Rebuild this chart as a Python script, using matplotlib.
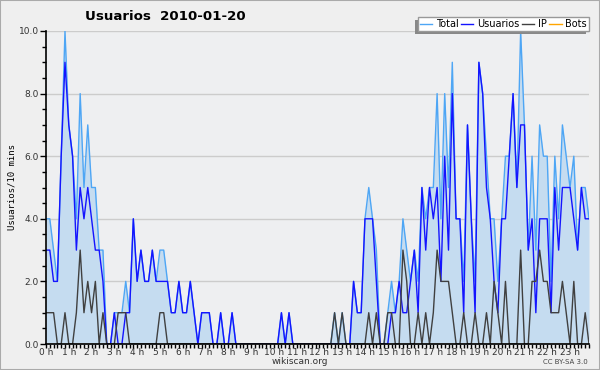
import numpy as np
import matplotlib.pyplot as plt
from matplotlib.patches import Rectangle

# one value per 10 minutes, one row per hour
total = [4, 4, 3, 2, 6, 10,
         7, 6, 4, 8, 5, 7,
         5, 5, 3, 3, 0, 0,
         1, 1, 1, 2, 1, 4,
         2, 3, 2, 2, 3, 2,
         3, 3, 2, 1, 1, 2,
         1, 1, 2, 1, 0, 1,
         1, 1, 0, 0, 1, 0,
         0, 1, 0, 0, 0, 0,
         0, 0, 0, 0, 0, 0,
         0, 0, 1, 0, 1, 0,
         0, 0, 0, 0, 0, 0,
         0, 0, 0, 0, 1, 0,
         1, 0, 0, 2, 1, 1,
         4, 5, 4, 3, 0, 0,
         1, 2, 1, 2, 4, 3,
         2, 3, 2, 5, 4, 5,
         5, 8, 4, 8, 5, 9,
         4, 4, 2, 7, 4, 2,
         9, 8, 6, 4, 4, 2,
         4, 6, 6, 8, 5, 10,
         7, 3, 6, 3, 7, 6,
         6, 2, 6, 4, 7, 6,
         5, 6, 3, 5, 5, 4]

usuarios = [3, 3, 2, 2, 6, 9,
            7, 6, 3, 5, 4, 5,
            4, 3, 3, 2, 0, 0,
            1, 0, 0, 1, 1, 4,
            2, 3, 2, 2, 3, 2,
            2, 2, 2, 1, 1, 2,
            1, 1, 2, 1, 0, 1,
            1, 1, 0, 0, 1, 0,
            0, 1, 0, 0, 0, 0,
            0, 0, 0, 0, 0, 0,
            0, 0, 1, 0, 1, 0,
            0, 0, 0, 0, 0, 0,
            0, 0, 0, 0, 0, 0,
            0, 0, 0, 2, 1, 1,
            4, 4, 4, 2, 0, 0,
            0, 1, 1, 2, 1, 1,
            2, 3, 1, 5, 3, 5,
            4, 5, 2, 6, 3, 8,
            4, 4, 1, 7, 4, 1,
            9, 8, 5, 4, 2, 1,
            4, 4, 6, 8, 5, 7,
            7, 3, 4, 1, 4, 4,
            4, 1, 5, 3, 5, 5,
            5, 4, 3, 5, 4, 4]

ip = [1, 1, 1, 0, 0, 1,
      0, 0, 1, 3, 1, 2,
      1, 2, 0, 1, 0, 0,
      0, 1, 1, 1, 0, 0,
      0, 0, 0, 0, 0, 0,
      1, 1, 0, 0, 0, 0,
      0, 0, 0, 0, 0, 0,
      0, 0, 0, 0, 0, 0,
      0, 0, 0, 0, 0, 0,
      0, 0, 0, 0, 0, 0,
      0, 0, 0, 0, 0, 0,
      0, 0, 0, 0, 0, 0,
      0, 0, 0, 0, 1, 0,
      1, 0, 0, 0, 0, 0,
      0, 1, 0, 1, 0, 0,
      1, 1, 0, 0, 3, 2,
      0, 0, 1, 0, 1, 0,
      1, 3, 2, 2, 2, 1,
      0, 0, 1, 0, 0, 1,
      0, 0, 1, 0, 2, 1,
      0, 2, 0, 0, 0, 3,
      0, 0, 2, 2, 3, 2,
      2, 1, 1, 1, 2, 1,
      0, 2, 0, 0, 1, 0]

bots = [0] * 144  # no bot edits that day

hour_labels = [f"{h} h" for h in range(24)]

x = np.arange(len(total))

fig = plt.figure(figsize=(6, 3.7), dpi=100, facecolor="#efefef")
ax = fig.add_axes([46 / 600, 26 / 370, 543 / 600, 313 / 370])
ax.set_facecolor("#eeeff1")

ax.fill_between(x, total, color="#c5dcf0", lw=0)
l_bots, = ax.plot(x, bots, color="#ffa500", lw=1)
l_total, = ax.plot(x, total, color="#4ea6f5", lw=1)
l_usu, = ax.plot(x, usuarios, color="#1414ff", lw=1)
l_ip, = ax.plot(x, ip, color="#404040", lw=1)

ax.set_xlim(0, 143)
ax.set_ylim(0, 10)

ax.set_yticks(np.arange(0, 11, 2))
ax.set_yticklabels([f"{v:.1f}" for v in range(0, 11, 2)])
ax.set_yticks(np.arange(0, 10.01, 0.5), minor=True)
ax.set_xticks(np.arange(0, 144, 6))
ax.set_xticklabels(hour_labels)
ax.set_xticks(np.arange(0, 144, 1), minor=True)

ax.tick_params(axis="both", which="both", labelsize=6.5, colors="#000000",
               labelcolor="#333333", width=1)
ax.tick_params(axis="y", which="major", length=4, pad=1)
ax.tick_params(axis="y", which="minor", length=3)
ax.tick_params(axis="x", which="both", length=3, pad=0)

ax.yaxis.grid(True, color="#cccccc", lw=1)
ax.set_axisbelow(True)
for side in ("top", "right"):
    ax.spines[side].set_visible(False)
for side in ("left", "bottom"):
    ax.spines[side].set_linewidth(1.2)

fig.text(85 / 600, 1 - 17 / 370, "Usuarios  2010-01-20", fontsize=9.6,
         fontweight="bold", ha="left", va="center")
fig.text(12 / 600, (370 - 187) / 370, "Usuarios/10 mins", rotation=90,
         family="DejaVu Sans Mono", fontsize=6.5, ha="center", va="center")
fig.text(300 / 600, 1 - 362 / 370, "wikiscan.org", fontsize=6.5,
         color="#333333", ha="center", va="center")
fig.text(588 / 600, 1 - 362 / 370, "CC BY-SA 3.0", fontsize=5,
         color="#444444", ha="right", va="center")

leg = fig.legend([l_total, l_usu, l_ip, l_bots], ["Total", "Usuarios", "IP", "Bots"],
                 loc="upper right", bbox_to_anchor=(589 / 600, 1 - 17 / 370),
                 ncol=4, fontsize=7, frameon=True, fancybox=False,
                 handlelength=1.3, handletextpad=0.4, columnspacing=0.2,
                 borderpad=0.2, borderaxespad=0)
leg.get_frame().set_edgecolor("#999999")
leg.get_frame().set_linewidth(1)
leg.get_frame().set_alpha(1)
leg.set_zorder(6)

# shadow down and to the left of the legend box
fig.canvas.draw()
bb = leg.get_window_extent().transformed(fig.transFigure.inverted())
fig.patches.append(Rectangle((bb.x0 - 3 / 600, bb.y0 - 3 / 370), bb.width, bb.height,
                             transform=fig.transFigure, facecolor="#888888",
                             edgecolor="none", zorder=5))

fig.patches.append(Rectangle((0, 0), 1, 1, transform=fig.transFigure,
                             fill=False, edgecolor="#aaaaaa", lw=1.5))

fig.savefig("out.png", dpi=100, facecolor=fig.get_facecolor())
